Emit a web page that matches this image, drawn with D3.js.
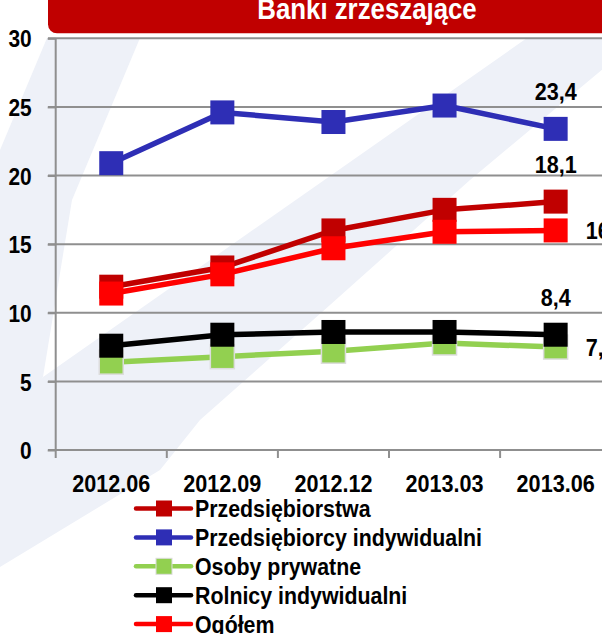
<!DOCTYPE html>
<html>
<head>
<meta charset="utf-8">
<script src="https://cdn.jsdelivr.net/npm/d3@7"></script>
<style>
html,body{margin:0;padding:0;background:#fff;}
svg{display:block;}
text{font-family:"Liberation Sans",Arial,sans-serif;font-weight:bold;}
</style>
</head>
<body>
<script>
const categories = ["2012.06","2012.09","2012.12","2013.03","2013.06"];
const przedsiebiorstwa = [11.9, 13.3, 16.0, 17.5, 18.1];
const przedsiebiorcyInd = [20.9, 24.6, 23.9, 25.1, 23.4];
const osobyPrywatne = [6.4, 6.8, 7.2, 7.8, 7.5];
const rolnicyInd = [7.6, 8.4, 8.6, 8.6, 8.4];
const ogolem = [11.4, 12.8, 14.7, 15.9, 16.0];
const yTicks = [0, 5, 10, 15, 20, 25, 30];
const seriesNames = ["Przedsiębiorstwa","Przedsiębiorcy indywidualni","Osoby prywatne","Rolnicy indywidualni","Ogółem"];
const seriesColors = ["#C00000","#2E2EB5","#92D050","#000000","#FF0000"];
const labelPlacement = ["above","above","right","above","right"];
const title = "Banki zrzeszające";

const seriesValues = [przedsiebiorstwa, przedsiebiorcyInd, osobyPrywatne, rolnicyInd, ogolem];
const series = seriesNames.map((n,i)=>({name:n,color:seriesColors[i],values:seriesValues[i],place:labelPlacement[i]}));

const W = 602, H = 634;
const svg = d3.select("body").append("svg").attr("width",W).attr("height",H);

// horizontal condensing of text (reference uses a narrow bold face)
function narrow(sel, k) {
  sel.each(function(){
    const x = +(this.getAttribute("x") || 0);
    d3.select(this).attr("transform", `translate(${x*(1-k)},0) scale(${k},1)`);
  });
}

// background watermark stripes
const pale = "#EEF1F8";
const pts = a => a.map(p=>p.join(",")).join(" ");
svg.append("polygon").attr("fill",pale)
  .attr("points",pts([[47,38],[140,38],[72,200],[43,377],[0,420],[0,150]]));
svg.append("polygon").attr("fill",pale)
  .attr("points",pts([[527,38],[640,38],[470,180],[330,305],[200,420],[160,470],[0,567],[0,407],[43,377]]));

// title banner
svg.append("rect").attr("x",48).attr("y",-20).attr("width",700).attr("height",53.3)
  .attr("rx",9).attr("fill","#C00000");
svg.append("text").attr("x",367).attr("y",19).attr("text-anchor","middle")
  .attr("fill","#fff").style("font-size","29px").text(title).call(narrow,0.89);

const x = d3.scaleBand().domain(categories).range([55.7, 611.2]).padding(0);
const y = d3.scaleLinear().domain([0,30]).range([450, 38.3]);
const cx = c => x(c) + x.bandwidth()/2;

// gridlines
svg.append("g").selectAll("line").data(yTicks.filter(t=>t>0)).join("line")
  .attr("x1",48).attr("x2",W+20).attr("y1",d=>y(d)).attr("y2",d=>y(d))
  .attr("stroke","#8f8f8f").attr("stroke-width",2);

// y axis
const yAxis = d3.axisLeft(y).tickValues(yTicks).tickSize(8).tickPadding(16).tickFormat(d3.format("d"));
const gy = svg.append("g").attr("transform","translate(55.7,0)").call(yAxis);
gy.select(".domain").attr("stroke","#8f8f8f").attr("stroke-width",2).attr("d","M0,"+y(30)+"V"+y(0));
gy.selectAll(".tick line").attr("stroke","#8f8f8f").attr("stroke-width",2);
gy.selectAll(".tick text").attr("fill","#000").style("font-size","24px").attr("dy","0.36em").call(narrow,0.87);

// x axis
const xAxis = d3.axisBottom(x).tickSize(0).tickPadding(0);
const gx = svg.append("g").attr("transform","translate(0,450)").call(xAxis);
gx.select(".domain").attr("stroke","#8f8f8f").attr("stroke-width",2).attr("d","M48,0H"+(W+20));
gx.selectAll(".tick text").attr("fill","#000").style("font-size","24px").attr("y",42).attr("dy",0).call(narrow,0.9);
// x tick marks at band boundaries
svg.append("g").selectAll("line").data(categories).join("line")
  .attr("x1",d=>x(d)).attr("x2",d=>x(d)).attr("y1",450).attr("y2",458)
  .attr("stroke","#8f8f8f").attr("stroke-width",2);

// series
const line = d3.line().x((d,i)=>cx(categories[i])).y(d=>y(d));
const ms = 24;
series.forEach(s=>{
  const g = svg.append("g");
  g.append("path").datum(s.values).attr("d",line).attr("fill","none")
    .attr("stroke",s.color).attr("stroke-width",5.5).attr("stroke-linejoin","round");
  g.selectAll("rect").data(s.values).join("rect")
    .attr("x",(d,i)=>cx(categories[i])-ms/2).attr("y",d=>y(d)-ms/2)
    .attr("width",ms).attr("height",ms).attr("fill",s.color)
    .attr("stroke", s.color==="#92D050" ? "#dcdcdc" : "none").attr("stroke-width",1.5);
});

// data labels for last point
const fmt = v => d3.format(".1f")(v).replace(".",",");
series.forEach(s=>{
  const last = s.values.length-1;
  const px = cx(categories[last]), py = y(s.values[last]);
  const t = svg.append("text").attr("fill","#000").style("font-size","24px").text(fmt(s.values[last]));
  if (s.place==="above") {
    t.attr("x",px).attr("y",py-ms/2-17).attr("text-anchor","middle");
  } else {
    t.attr("x",px+30).attr("y",py).attr("dy","0.36em").attr("text-anchor","start");
  }
  t.call(narrow,0.9);
});

// legend
const lg = svg.append("g");
const rowY = i => 508.5 + i*28.9;
series.forEach((s,i)=>{
  const r = lg.append("g").attr("transform","translate(0,"+rowY(i)+")");
  r.append("line").attr("x1",136).attr("x2",191).attr("y1",0).attr("y2",0)
    .attr("stroke",s.color).attr("stroke-width",4.5).attr("stroke-linecap","round");
  r.append("rect").attr("x",156).attr("y",-8).attr("width",16).attr("height",16).attr("fill",s.color)
    .attr("stroke", s.color==="#92D050" ? "#dcdcdc" : "none").attr("stroke-width",1);
  r.append("text").attr("x",195).attr("y",0).attr("dy","0.36em").style("font-size","24px").text(s.name).call(narrow,0.89);
});
</script>
</body>
</html>
